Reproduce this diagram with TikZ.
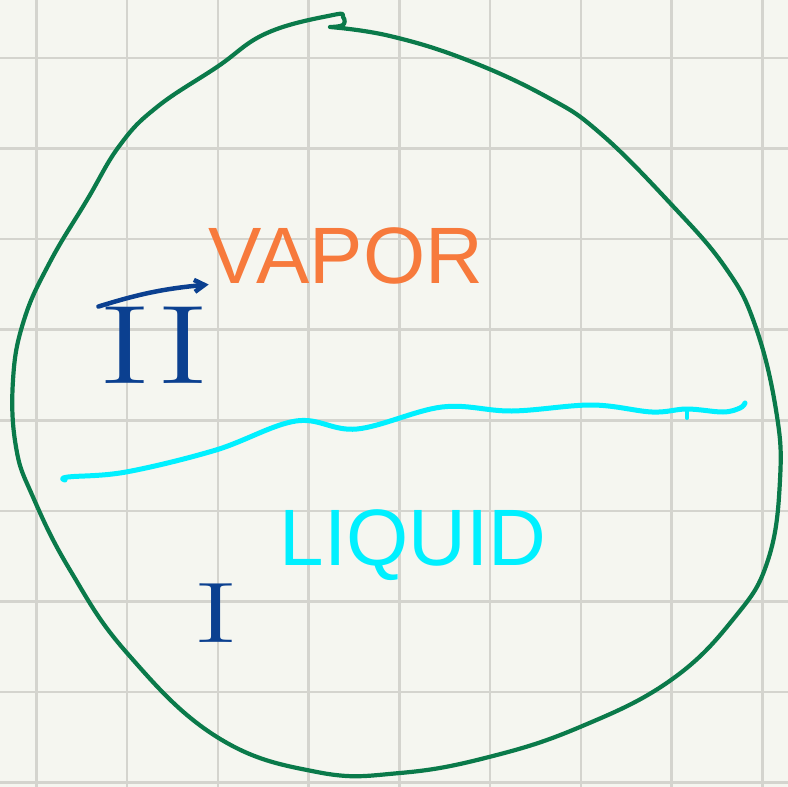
\documentclass[tikz,border=0pt]{standalone}
\usepackage{fontspec}
\setsansfont{Liberation Sans}
\usetikzlibrary{arrows.meta}
\definecolor{paper}{HTML}{F5F6F0}
\definecolor{gridgray}{HTML}{D4D4CE}
\definecolor{rimgreen}{HTML}{0A7A4A}
\definecolor{surfcyan}{HTML}{00F0FF}
\definecolor{vaporange}{HTML}{F77A3C}
\definecolor{inkblue}{HTML}{0B4090}
\begin{document}
\begin{tikzpicture}[x=1pt,y=-1pt,line cap=round,line join=round,
 numeral/.style={text=inkblue,inner sep=0pt,font=\fontsize{112}{112}\selectfont},
 phase/.style={inner sep=0pt,font=\sffamily\fontsize{80}{80}\selectfont}]
 \fill[paper] (0,0) rectangle (788,787);
 \useasboundingbox (0,0) rectangle (788,787);
 % squared paper
 \foreach \k in {0,...,8}{
  \draw[gridgray,line width=2.6pt] ({36.3+90.75*\k},0)--({36.3+90.75*\k},787);
  \draw[gridgray,line width=2.6pt] (0,{57.8+90.6*\k})--(788,{57.8+90.6*\k});
 }
 % container
 \draw[rimgreen,line width=4.2pt] plot[smooth,tension=.7] coordinates {
  (330,27) (343,25) (343,17) (333,15) (267,33) (217,67) (157,107)
  (120,145) (87,200) (50,262) (24,320) (13,380) (16,447) (33,497)
  (70,570) (127,653) (217,737) (317,772) (400,773) (489,757) (580,727)
  (671,680) (735,617) (768,560) (780,480) (776,410) (755,325) (725,267)
  (670,203) (600,133) (547,97) (467,60) (390,36) (330,27)};
 % interface
 \draw[surfcyan,line width=5pt] plot[smooth,tension=.6] coordinates {
  (65,480) (68,477) (126,472) (216,450) (296,421) (357,429) (442,407)
  (512,411) (592,405) (652,412) (687,409) (723,412) (740,408) (745,403)};
 \draw[surfcyan,line width=4pt] (687,409)--(687,418);
 \node[phase,text=vaporange] (vapor) at (346,256) {VAPOR};
 \node[phase,text=surfcyan] (liquid) at (413,545) {LIQUID};
 \node[numeral] (two) at (154,345) {\scalebox{1.45}[1]{II}};
 \node[numeral,font=\fontsize{86}{86}\selectfont] (one) at (216,613)
  {\scalebox{1.6}[1]{I}};
 \draw[inkblue,line width=4.5pt,-{Straight Barb[length=10pt,width=12pt]}]
  (two.north west) to[bend left=6] (vapor.south west);
\end{tikzpicture}
\end{document}
